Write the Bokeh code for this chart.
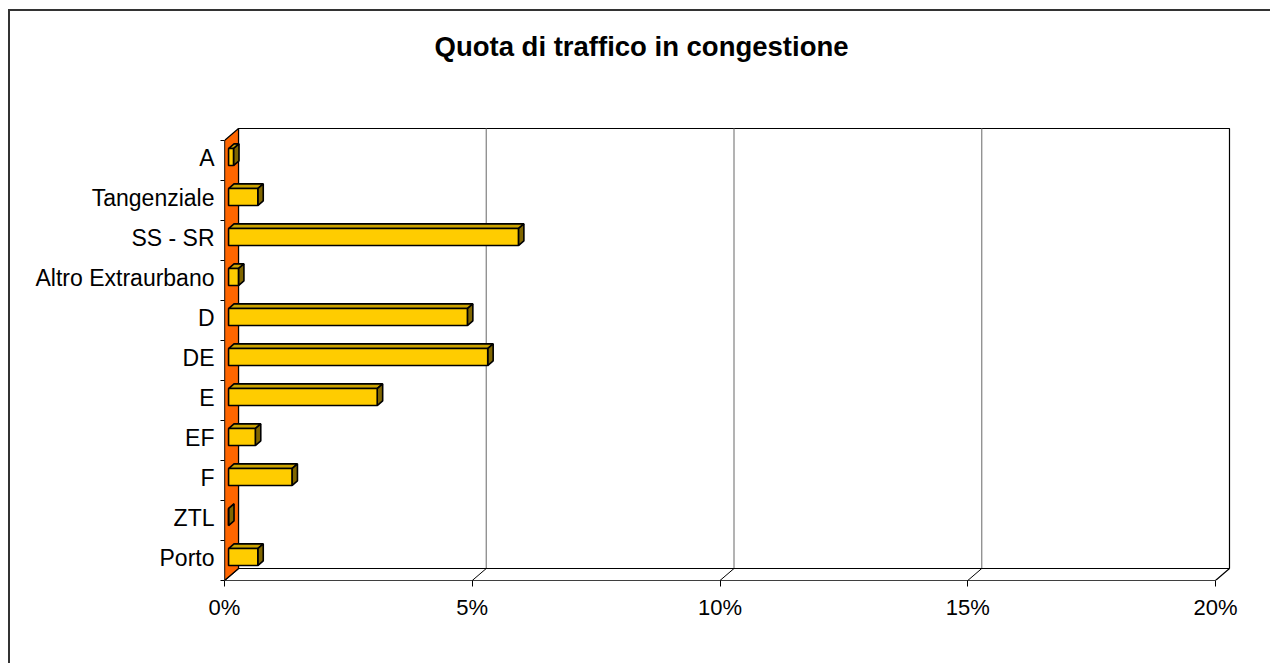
from bokeh.plotting import figure
from bokeh.models import FixedTicker, NumeralTickFormatter, Range1d, Title
from bokeh.embed import file_html
from bokeh.resources import INLINE

# ---- data ----
categories = ["A", "Tangenziale", "SS - SR", "Altro Extraurbano", "D", "DE",
              "E", "EF", "F", "ZTL", "Porto"]
values = [0.0010, 0.0059, 0.0585, 0.0020, 0.0482, 0.0523,
          0.0300, 0.0054, 0.0128, 0.0000, 0.0059]
x_ticks = [0.0, 0.05, 0.10, 0.15, 0.20]
title_text = "Quota di traffico in congestione"

FONT = "Liberation Sans"
W, H = 1270, 663
L, R, T, B = 224, 1232, 127, 580        # frame edges in pixels
XMAX = 0.20
PX_PER_X = (1215 - L) / XMAX           # pixels per unit (fraction)
PX_PER_Y = 40.0                        # pixels per category
n = len(categories)

x_end = (R - L) / PX_PER_X
y_end = (B - T) / PX_PER_Y

DX = 14 / PX_PER_X      # depth offset (x)
DY = 12 / PX_PER_Y      # depth offset (y)

p = figure(width=W, height=H, output_backend="svg", toolbar_location=None,
           x_range=Range1d(0, x_end), y_range=Range1d(0, y_end),
           min_border_left=L, min_border_right=W - R,
           min_border_top=T, min_border_bottom=H - B,
           background_fill_color="white", border_fill_color=None)
p.outline_line_color = None
p.xgrid.visible = False
p.ygrid.visible = False
# outer chart border (top and left visible in the window)
p.styles = {
    "background": ("linear-gradient(#333333,#333333) 8px 9px / 2px 100% no-repeat, "
                   "linear-gradient(#333333,#333333) 8px 9px / 100% 2px no-repeat, "
                   "white"),
}

# spacer between title and plot area
p.add_layout(Title(text=" ", text_font_size="1px", standoff=58), "above")

# title
p.title.text = title_text
p.title.align = "left"
p.title.offset = 210
p.title.text_font = FONT
p.title.text_font_size = "27.5px"
p.title.text_font_style = "bold"
p.title.text_color = "black"
p.title.standoff = 10

# back wall
p.quad(left=DX, right=XMAX + DX, bottom=DY, top=n + DY,
       fill_color="white", line_color="black", line_width=1.2)
# gridlines on back wall
for v in x_ticks[1:-1]:
    p.segment(x0=v + DX, y0=DY, x1=v + DX, y1=n + DY,
              line_color="#808080", line_width=1.2)
# floor
p.patch([0, XMAX, XMAX + DX, DX], [0, 0, DY, DY],
        fill_color="white", line_color="black", line_width=1.2)
for v in x_ticks[1:-1]:
    p.segment(x0=v, y0=0, x1=v + DX, y1=DY, line_color="black", line_width=1)
# left wall (orange)
p.patch([0, DX, DX, 0], [0, DY, n + DY, n],
        fill_color="#FF6600", line_color="black", line_width=1.2)

# bars
f1, f2 = 0.29, 0.68
ox1, oy1, ox2, oy2 = f1 * DX, f1 * DY, f2 * DX, f2 * DY
h = 0.425 / 2
fl, fr, fb, ft = [], [], [], []
txs, tys, sxs, sys_ = [], [], [], []
for i, v in enumerate(values):
    yc = n - 0.5 - i
    fl.append(ox1); fr.append(v + ox1)
    fb.append(yc - h + oy1); ft.append(yc + h + oy1)
    txs.append([ox1, v + ox1, v + ox2, ox2])
    tys.append([yc + h + oy1, yc + h + oy1, yc + h + oy2, yc + h + oy2])
    sxs.append([v + ox1, v + ox2, v + ox2, v + ox1])
    sys_.append([yc - h + oy1, yc - h + oy2, yc + h + oy2, yc + h + oy1])

p.patches(xs=txs, ys=tys, fill_color="#CCA300", line_color="black", line_width=1.6)
p.patches(xs=sxs, ys=sys_, fill_color="#806600", line_color="black", line_width=1.6)
p.quad(left=fl, right=fr, bottom=fb, top=ft,
       fill_color="#FFCC00", line_color="black", line_width=1.6)

# front baseline and front vertical edge
p.line([0, XMAX], [0, 0], line_color="black", line_width=1.2)
p.line([0, 0], [0, n], line_color="black", line_width=1.2)

# axes
xa = p.xaxis[0]
xa.ticker = FixedTicker(ticks=x_ticks)
xa.formatter = NumeralTickFormatter(format="0%")
xa.axis_line_color = None
xa.major_tick_out = 6
xa.major_tick_in = 0
xa.major_tick_line_color = "black"
xa.minor_tick_line_color = None
xa.major_label_text_font = FONT
xa.major_label_text_font_size = "22px"
xa.major_label_text_color = "black"
xa.major_label_standoff = 8

ya = p.yaxis[0]
centers = [n - 0.5 - i + 0.075 for i in range(n)]
ya.ticker = FixedTicker(ticks=centers, minor_ticks=list(range(n + 1)))
ya.major_label_overrides = {c: name for c, name in zip(centers, categories)}
ya.axis_line_color = None
ya.major_tick_line_color = None
ya.major_tick_out = 0
ya.major_tick_in = 0
ya.minor_tick_line_color = "black"
ya.minor_tick_out = 4
ya.minor_tick_in = 0
ya.major_label_text_font = FONT
ya.major_label_text_font_size = "23px"
ya.major_label_text_color = "black"
ya.major_label_standoff = 6

open("out.html", "w").write(file_html(p, INLINE))
